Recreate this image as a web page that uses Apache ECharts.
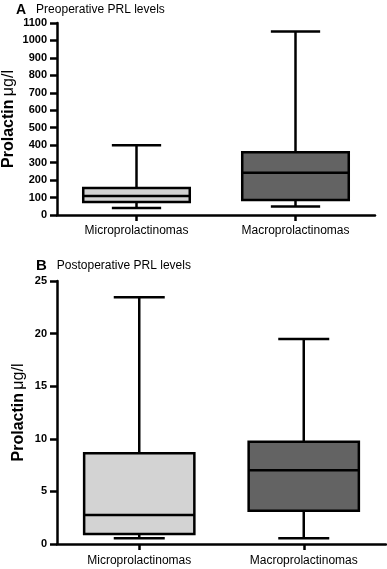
<!DOCTYPE html>
<html>
<head>
<meta charset="utf-8">
<script src="https://cdn.jsdelivr.net/npm/echarts@6/dist/echarts.min.js"></script>
<style>
  html, body { margin: 0; padding: 0; background: #fff; }
  #chart { width: 387px; height: 569px; }
</style>
</head>
<body>
<div id="chart"></div>
<script>
// groups on the x axis
const categories = ['Microprolactinomas', 'Macroprolactinomas'];

// [min, q1, median, q3, max]
const preMicro = [40, 75, 109, 155, 400];
const preMacro = [48, 86, 242, 359, 1052];
const postMicro = [0.54, 0.95, 2.76, 8.62, 23.45];
const postMacro = [0.54, 3.17, 7.0, 9.73, 19.49];

const preTicks = { min: 0, max: 1100, interval: 100 };
const postTicks = { min: 0, max: 25, interval: 5 };

const fills = ['#d3d3d3', '#636363'];
const font = '"Liberation Sans", Arial, sans-serif';

// box with whiskers; caps are narrower than the box like the original figure
function renderBox(params, api) {
  const cat = api.value(0);
  const lo = api.coord([cat, api.value(1)]);
  const q1 = api.coord([cat, api.value(2)]);
  const med = api.coord([cat, api.value(3)]);
  const q3 = api.coord([cat, api.value(4)]);
  const hi = api.coord([cat, api.value(5)]);
  const band = api.size([1, 0])[0];
  const bw = band * 0.67;
  const cw = band * 0.31;
  const x = lo[0];
  const ln = { stroke: '#000', lineWidth: 2.5 };
  return {
    type: 'group',
    children: [
      { type: 'line', shape: { x1: x, y1: hi[1], x2: x, y2: q3[1] }, style: ln },
      { type: 'line', shape: { x1: x, y1: q1[1], x2: x, y2: lo[1] }, style: ln },
      { type: 'line', shape: { x1: x - cw / 2, y1: hi[1], x2: x + cw / 2, y2: hi[1] }, style: ln },
      { type: 'line', shape: { x1: x - cw / 2, y1: lo[1], x2: x + cw / 2, y2: lo[1] }, style: ln },
      {
        type: 'rect',
        shape: { x: x - bw / 2, y: q3[1], width: bw, height: q1[1] - q3[1] },
        style: { fill: fills[params.dataIndex], stroke: '#000', lineWidth: 2.5 }
      },
      { type: 'line', shape: { x1: x - bw / 2, y1: med[1], x2: x + bw / 2, y2: med[1] }, style: ln }
    ]
  };
}

const axisLine = { lineStyle: { color: '#000', width: 2.5 } };

function yAxis(idx, ticks, gap) {
  return {
    type: 'value',
    gridIndex: idx,
    min: ticks.min,
    max: ticks.max,
    interval: ticks.interval,
    splitLine: { show: false },
    axisLine: { show: true, ...axisLine },
    axisTick: { show: true, length: 7, lineStyle: { color: '#000', width: 2.5 } },
    axisLabel: {
      color: '#000', fontWeight: 'bold', fontSize: 11, fontFamily: font, margin: 10,
      formatter: v => String(v)
    },
    name: '{b|Prolactin} {u|μg/l}',
    nameLocation: 'middle',
    nameRotate: 90,
    nameGap: gap,
    nameMoveOverlap: false,
    nameTextStyle: {
      rich: {
        b: { fontSize: 16, fontWeight: 'bold', fontFamily: font, color: '#000' },
        u: { fontSize: 16, fontFamily: font, color: '#000' }
      }
    }
  };
}

function xAxis(idx, margin) {
  return {
    type: 'category',
    gridIndex: idx,
    data: categories,
    axisLine: { show: true, ...axisLine },
    axisTick: { show: true, alignWithLabel: true, length: 6, lineStyle: { color: '#000', width: 2.5 } },
    axisLabel: { color: '#000', fontSize: 12, fontFamily: font, margin: margin }
  };
}

function titleItem(letter, text, left, top, size) {
  return {
    text: '{l|' + letter + '}  {t|' + text + '}',
    left: left,
    top: top,
    padding: 0,
    textStyle: {
      fontWeight: 'normal',
      rich: {
        l: { fontSize: size, fontWeight: 'bold', fontFamily: font, color: '#000' },
        t: { fontSize: 12, fontWeight: 'normal', fontFamily: font, color: '#000' }
      }
    }
  };
}

const chart = echarts.init(document.getElementById('chart'));
chart.setOption({
  animation: false,
  backgroundColor: '#fff',
  title: [
    titleItem('A', 'Preoperative PRL levels', 16, 1, 14),
    titleItem('B', 'Postoperative PRL levels', 36, 257, 15)
  ],
  grid: [
    { left: 57, top: 23, width: 318, height: 192, outerBoundsMode: 'none' },
    { left: 57, top: 281, width: 329, height: 263, outerBoundsMode: 'none' }
  ],
  xAxis: [xAxis(0, 10), xAxis(1, 11)],
  yAxis: [yAxis(0, preTicks, 40), yAxis(1, postTicks, 30)],
  series: [
    {
      type: 'custom',
      xAxisIndex: 0,
      yAxisIndex: 0,
      renderItem: renderBox,
      encode: { x: 0, y: [1, 2, 3, 4, 5] },
      data: [[0, ...preMicro], [1, ...preMacro]]
    },
    {
      type: 'custom',
      xAxisIndex: 1,
      yAxisIndex: 1,
      renderItem: renderBox,
      encode: { x: 0, y: [1, 2, 3, 4, 5] },
      data: [[0, ...postMicro], [1, ...postMacro]]
    }
  ]
});
</script>
</body>
</html>
